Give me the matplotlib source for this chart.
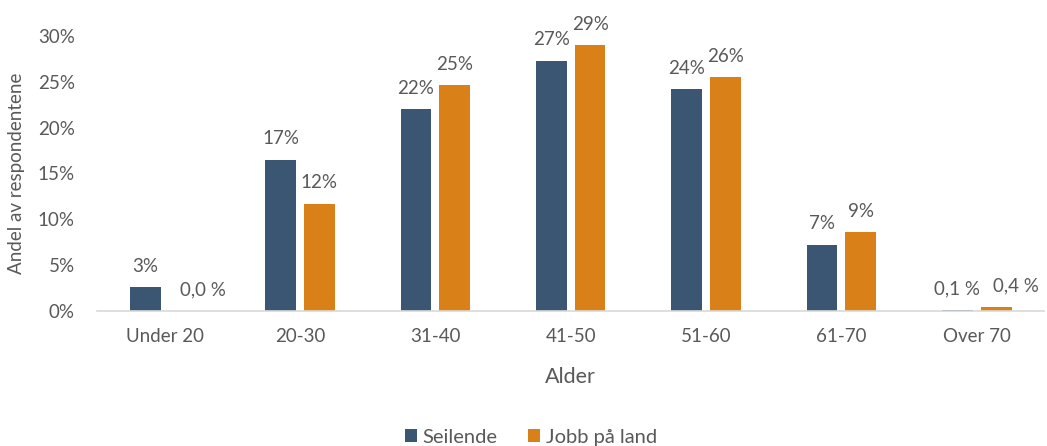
import matplotlib
matplotlib.use("Agg")
import matplotlib.pyplot as plt
import numpy as np

categories = ["Under 20", "20-30", "31-40", "41-50", "51-60", "61-70", "Over 70"]
seilende = [2.6, 16.5, 22.0, 27.3, 24.2, 7.2, 0.1]
jobb = [0.0, 11.7, 24.6, 29.0, 25.5, 8.6, 0.4]
seilende_labels = ["3%", "17%", "22%", "27%", "24%", "7%", "0,1 %"]
jobb_labels = ["0,0 %", "12%", "25%", "29%", "26%", "9%", "0,4 %"]
yticks = [0, 5, 10, 15, 20, 25, 30]

plt.rcParams['font.family'] = ['Lato', 'DejaVu Sans']
grey = "#595959"
c_blue = "#3A5673"
c_orange = "#D98019"

fig = plt.figure(figsize=(10.47, 4.46), dpi=100)
ax = fig.add_axes([0.0926, 0.3027, 0.905, 0.6166])

x = np.arange(len(categories))
w = 0.227
off = 0.143
b1 = ax.bar(x - off, seilende, w, color=c_blue, label="Seilende")
b2 = ax.bar(x + off, jobb, w, color=c_orange, label="Jobb på land")

for rects, labels, is_right in ((b1, seilende_labels, False), (b2, jobb_labels, True)):
    for r, lab in zip(rects, labels):
        # small values on the right-hand bar are nudged right (as in the reference)
        dx = 14 if (is_right and r.get_height() < 1) else 0
        ax.annotate(lab, (r.get_x() + r.get_width() / 2, r.get_height()),
                    xytext=(dx, 9), textcoords="offset points",
                    ha="center", va="bottom", fontsize=13.5, color=grey,
                    annotation_clip=False)

ax.set_xlim(-0.5, 6.5)
ax.set_ylim(0, 30)
ax.set_yticks(yticks)
ax.set_yticklabels([f"{v}%" for v in yticks])
ax.set_xticks(x)
ax.set_xticklabels(categories)
ax.tick_params(length=0, labelsize=13.5, colors=grey)
ax.tick_params(axis='x', pad=12)
ax.tick_params(axis='y', pad=16)
for s in ["top", "right", "left"]:
    ax.spines[s].set_visible(False)
ax.spines["bottom"].set_color("#D9D9D9")
ax.spines["bottom"].set_linewidth(1.2)

ax.set_xlabel("Alder", fontsize=15.5, color=grey, labelpad=16)
ax.set_ylabel("Andel av respondentene", fontsize=13.5, color=grey, labelpad=9)

leg = fig.legend(handles=[b1, b2], loc="center", bbox_to_anchor=(0.507, 0.02),
                 ncol=2, frameon=False, fontsize=14.5, handlelength=0.6,
                 handleheight=0.6, handletextpad=0.3, columnspacing=1.5)
for t in leg.get_texts():
    t.set_color(grey)

fig.savefig("out.png", dpi=100)
